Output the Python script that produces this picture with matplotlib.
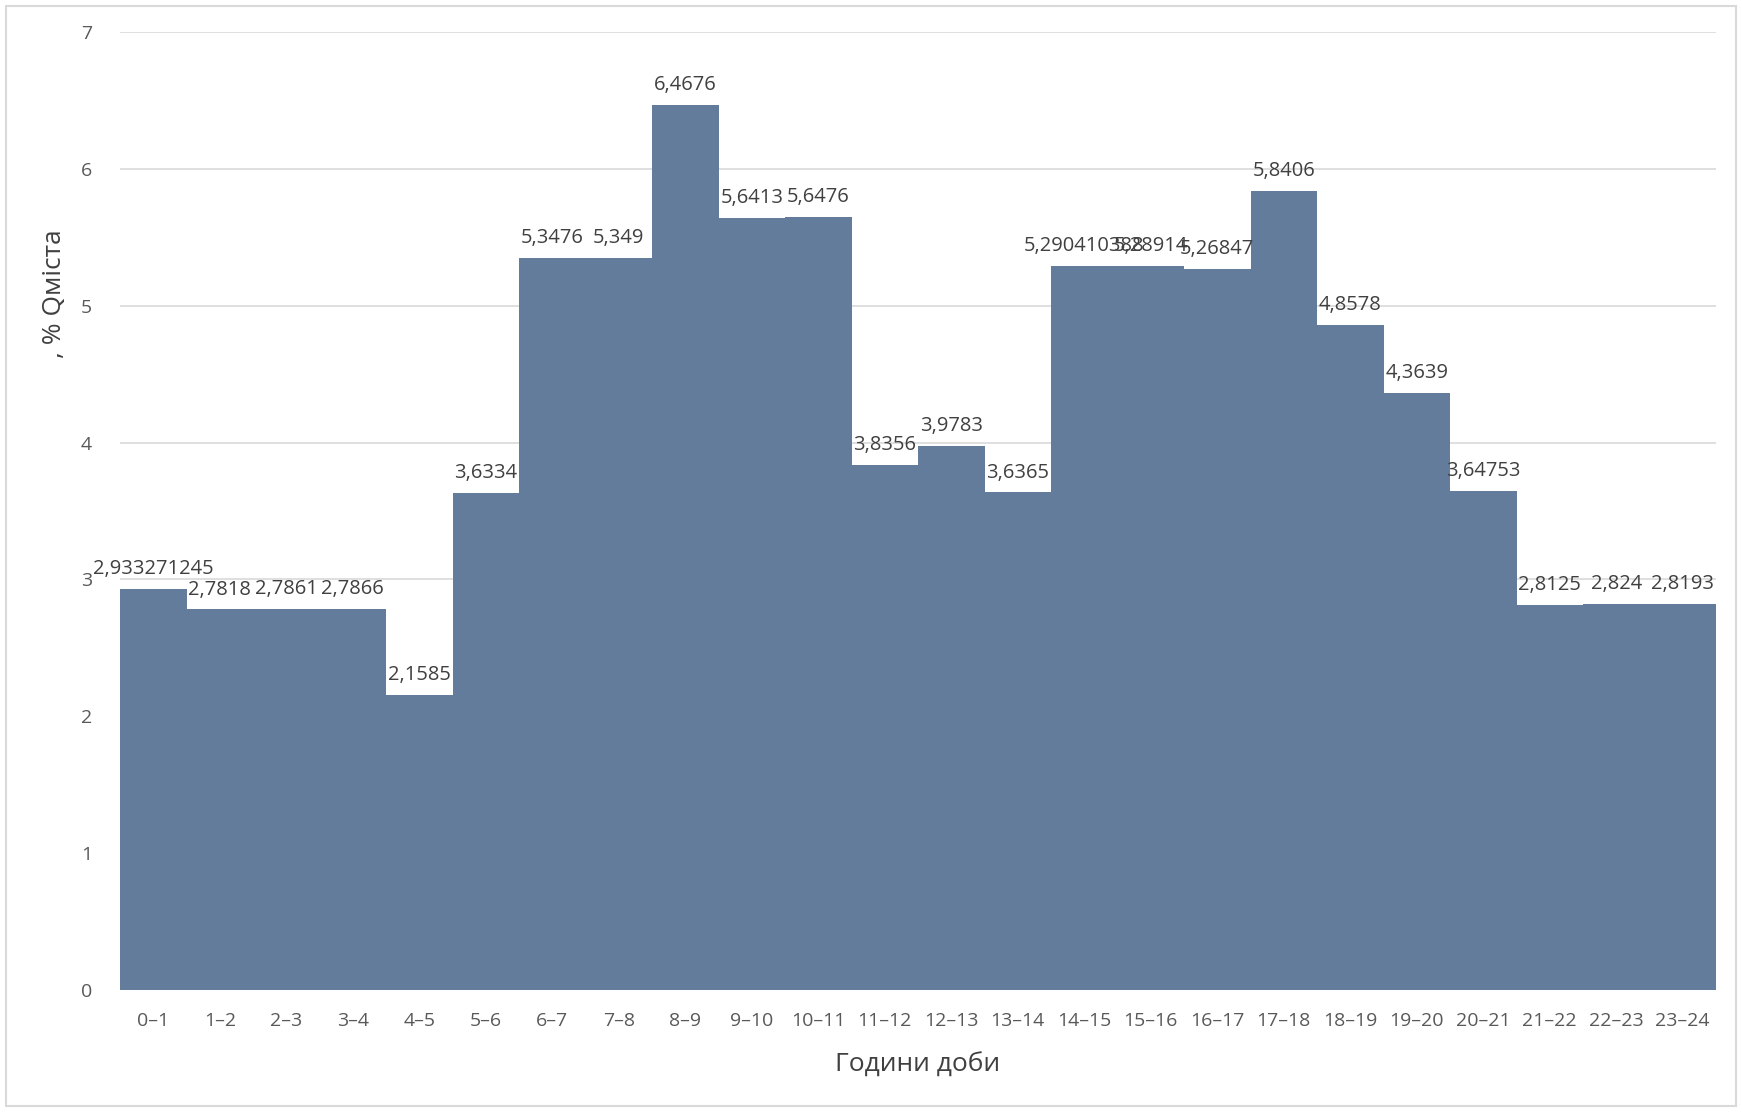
import matplotlib.pyplot as plt
from matplotlib.patches import Rectangle

plt.rcParams['font.family'] = ['Open Sans', 'DejaVu Sans']

# -------- DATA --------
hours = ["0–1", "1–2", "2–3", "3–4", "4–5", "5–6", "6–7", "7–8", "8–9", "9–10",
         "10–11", "11–12", "12–13", "13–14", "14–15", "15–16", "16–17", "17–18",
         "18–19", "19–20", "20–21", "21–22", "22–23", "23–24"]
values = [2.933271245, 2.7818, 2.7861, 2.7866, 2.1585, 3.6334, 5.3476, 5.349,
          6.4676, 5.6413, 5.6476, 3.8356, 3.9783, 3.6365, 5.290410388, 5.28914,
          5.26847, 5.8406, 4.8578, 4.3639, 3.64753, 2.8125, 2.824, 2.8193]
labels = ["2,933271245", "2,7818", "2,7861", "2,7866", "2,1585", "3,6334",
          "5,3476", "5,349", "6,4676", "5,6413", "5,6476", "3,8356", "3,9783",
          "3,6365", "5,290410388", "5,28914", "5,26847", "5,8406", "4,8578",
          "4,3639", "3,64753", "2,8125", "2,824", "2,8193"]

# -------- PLOT --------
fig = plt.figure(figsize=(17.42, 11.12), dpi=100)
ax = fig.add_axes([120 / 1742, 1 - 990 / 1112, 1596 / 1742, 958 / 1112])

x = list(range(len(hours)))
ax.bar(x, values, width=1.0, color="#647C9B", zorder=3)

for xi, v, lab in zip(x, values, labels):
    ax.annotate(lab, (xi, v), xytext=(0, 7), textcoords="offset points",
                ha="center", va="bottom", fontsize=14.5, color="#404040", zorder=4)

ax.set_xlim(-0.5, len(hours) - 0.5)
ax.set_ylim(0, 7)
ax.set_xticks(x)
ax.set_xticklabels(hours, fontsize=14, color="#595959")
ax.set_yticks(range(8))
ax.set_yticklabels([str(i) for i in range(8)], fontsize=14, color="#595959")
ax.tick_params(axis="x", length=0, pad=16)
ax.tick_params(axis="y", length=0, pad=20)
ax.grid(axis="y", color="#D9D9D9", linewidth=1.2, zorder=0)
for s in ax.spines.values():
    s.set_visible(False)

ax.set_xlabel("Години доби", fontsize=19, color="#404040")
ax.xaxis.set_label_coords(0.5, -0.065)
ax.set_ylabel(", % Qміста", fontsize=19, color="#404040", va="center")
ax.yaxis.set_label_coords(-0.041, 0.727)

fig.patches.append(Rectangle((6 / 1742, 6 / 1112), 1 - 12 / 1742, 1 - 12 / 1112,
                             transform=fig.transFigure, fill=False,
                             edgecolor="#D9D9D9", linewidth=1.5))

fig.savefig("out.png", dpi=100)
